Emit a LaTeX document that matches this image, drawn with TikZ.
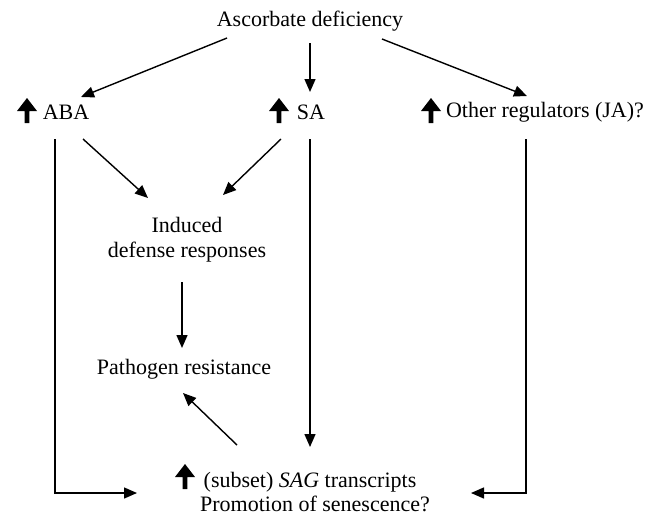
\documentclass[tikz,border=0pt]{standalone}
\usepackage{fontspec}
\setmainfont{Liberation Serif}
\usetikzlibrary{arrows.meta}
\begin{document}
\begin{tikzpicture}[x=1pt,y=-1pt,
  lbl/.style={inner sep=0pt,font=\fontsize{22}{25}\selectfont,align=center},
  conn/.style={line width=1.4pt,-{Triangle[length=13pt,width=11pt]}},
  uparr/.pic={\fill (0,0) -- (10,13) -- (2.3,13) -- (2.3,25) -- (-2.3,25) -- (-2.3,13) -- (-10,13) -- cycle;}]
\useasboundingbox (0,0) rectangle (653,517);
% nodes
\node[lbl] (asc) at (310,21) {Ascorbate deficiency};
\node[lbl] (aba) at (66,112) {ABA};
\node[lbl] (sa) at (311,112) {SA};
\node[lbl] (oth) at (545,112) {Other regulators (JA)?};
\node[lbl] (ind) at (187,240) {Induced\\defense responses};
\node[lbl] (path) at (184,369) {Pathogen resistance};
\node[lbl] (sag) at (310,482) {(subset) \textit{SAG} transcripts};
\node[lbl] (prom) at (315,504) {Promotion of senescence?};
% up arrows
\pic at (27,98) {uparr};
\pic at (279,98) {uparr};
\pic at (431,98) {uparr};
\pic at (185,464) {uparr};
% connector ends
\coordinate (ascL) at (227,38);
\coordinate (ascM) at (310,43);
\coordinate (ascR) at (382,39);
\coordinate (abaIn) at (81,97);
\coordinate (saIn) at (310,92);
\coordinate (othIn) at (527,96);
\coordinate (abaOutA) at (83,139);
\coordinate (abaOutV) at (55,139);
\coordinate (saOutA) at (281,139);
\coordinate (saOutV) at (310,139);
\coordinate (othOutV) at (526,139);
\coordinate (indInL) at (148,198);
\coordinate (indInR) at (223,195);
\coordinate (indOut) at (182,282);
\coordinate (pathIn) at (182,348);
\coordinate (pathInB) at (183,393);
\coordinate (sagOut) at (237,445);
\coordinate (sagInT) at (310,447);
\coordinate (sagInL) at (137,493);
\coordinate (sagInR) at (471,493);
% connectors
\draw[conn] (ascL) -- (abaIn);
\draw[conn] (ascM) -- (saIn);
\draw[conn] (ascR) -- (othIn);
\draw[conn] (abaOutA) -- (indInL);
\draw[conn] (saOutA) -- (indInR);
\draw[conn] (indOut) -- (pathIn);
\draw[conn] (saOutV) -- (sagInT);
\draw[conn] (sagOut) -- (pathInB);
\draw[conn] (abaOutV) |- (sagInL);
\draw[conn] (othOutV) |- (sagInR);
\end{tikzpicture}
\end{document}
